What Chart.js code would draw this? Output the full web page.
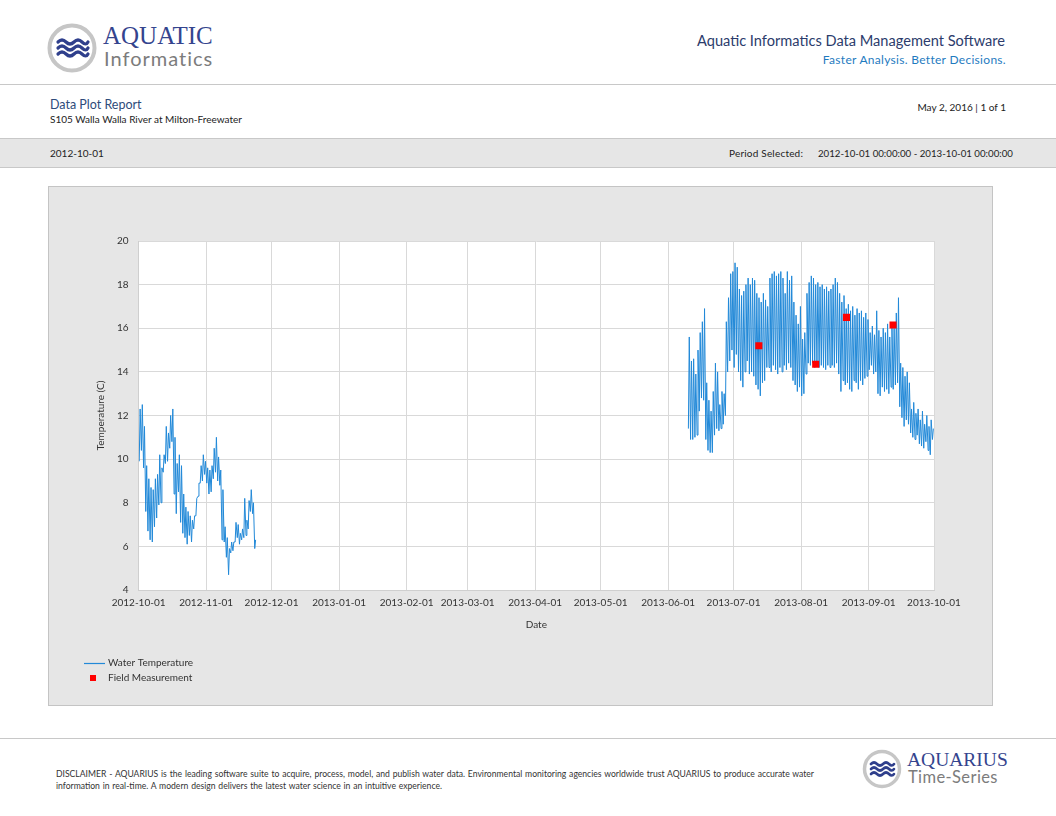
<!DOCTYPE html>
<html>
<head>
<meta charset="utf-8">
<title>Data Plot Report</title>
<script src="https://cdn.jsdelivr.net/npm/chart.js@4.4.0/dist/chart.umd.min.js"></script>
<style>
  body { margin: 0; width: 1056px; height: 816px; position: relative; background: #fff;
         font-family: Lato, 'Open Sans', sans-serif; color: #333; overflow: hidden; }
  .abs { position: absolute; white-space: nowrap; }
  .rule { position: absolute; left: 0; width: 1056px; height: 1px; background: #c8c8c8; }
  #band { position: absolute; left: 0; top: 138px; width: 1056px; height: 30px; background: #e6e6e6;
          border-top: 1px solid #c8c8c8; border-bottom: 1px solid #c8c8c8; box-sizing: border-box; }
  #box { position: absolute; left: 48px; top: 186px; width: 945px; height: 520px; background: #e6e6e6;
         border: 1px solid #c4c4c4; box-sizing: border-box; }
  #chartWrap { position: absolute; left: 48px; top: 186px; width: 945px; height: 520px; }
  #disclaimer { position: absolute; left: 56px; top: 768px; width: 758px; font-size: 8.6px; line-height: 12px; color: #333; word-spacing: 0.6px; }
  #disclaimer .l1 { text-align: justify; text-align-last: justify; word-spacing: 0; }
</style>
</head>
<body>

<!-- header -->
<svg class="abs" style="left:46px;top:22px" width="54" height="54" viewBox="0 0 54 54">
  <circle cx="26" cy="26" r="22.5" fill="#fff" stroke="#c6c6c6" stroke-width="4"/>
  <g fill="none" stroke="#2f3f8c" stroke-width="3.2" stroke-linecap="round">
    <path d="M12 20 q4 -4 8 0 t8 0 t8 0 t6 0"/>
    <path d="M12 26 q4 -4 8 0 t8 0 t8 0 t6 0"/>
    <path d="M12 32 q4 -4 8 0 t8 0 t8 0 t6 0"/>
  </g>
</svg>
<div class="abs" style="left:103px;top:22px;font-family:'Liberation Serif',serif;font-size:25px;color:#34448e">AQUATIC</div>
<div class="abs" style="left:104px;top:46px;font-size:20px;color:#7c7c7c;letter-spacing:1px">Informatics</div>

<div class="abs" style="right:51px;top:32px;font-size:14.6px;color:#2c3c6c">Aquatic Informatics Data Management Software</div>
<div class="abs" style="right:50px;top:52px;font-size:12px;color:#1f7bbf;letter-spacing:0.3px">Faster Analysis. Better Decisions.</div>
<div class="rule" style="top:84px"></div>

<div class="abs" style="left:50px;top:97px;font-size:12.5px;color:#2e4b7a">Data Plot Report</div>
<div class="abs" style="left:50px;top:113px;font-size:10px;color:#222">S105 Walla Walla River at Milton-Freewater</div>
<div class="abs" style="right:50px;top:101px;font-size:10px;color:#222">May 2, 2016 | 1 of 1</div>

<div id="band"></div>
<div class="abs" style="left:50px;top:147px;font-size:10px;color:#222">2012-10-01</div>
<div class="abs" style="left:729px;top:147px;font-size:10px;color:#222;letter-spacing:0.2px">Period Selected:</div>
<div class="abs" style="left:818px;top:147px;font-size:9.7px;color:#222">2012-10-01 00:00:00 - 2013-10-01 00:00:00</div>

<div id="box"></div>
<div id="chartWrap"><canvas id="myChart"></canvas></div>

<!-- footer -->
<div class="rule" style="top:738px"></div>
<div id="disclaimer">
  <div class="l1">DISCLAIMER - AQUARIUS is the leading software suite to acquire, process, model, and publish water data. Environmental monitoring agencies worldwide trust AQUARIUS to produce accurate water</div>
  <div>information in real-time. A modern design delivers the latest water science in an intuitive experience.</div>
</div>
<svg class="abs" style="left:861px;top:748px" width="42" height="42" viewBox="0 0 42 42">
  <circle cx="21" cy="21" r="17.5" fill="#fff" stroke="#c6c6c6" stroke-width="3.5"/>
  <g fill="none" stroke="#2f3f8c" stroke-width="2.6" stroke-linecap="round">
    <path d="M10 16 q3 -3 6 0 t6 0 t6 0 t5 0"/>
    <path d="M10 21 q3 -3 6 0 t6 0 t6 0 t5 0"/>
    <path d="M10 26 q3 -3 6 0 t6 0 t6 0 t5 0"/>
  </g>
</svg>
<div class="abs" style="left:907px;top:749px;font-family:'Liberation Serif',serif;font-size:19.5px;color:#34448e">AQUARIUS</div>
<div class="abs" style="left:908px;top:767px;font-size:16.5px;color:#7c7c7c;letter-spacing:0.4px">Time-Series</div>

<script>
// daily low / high water temperature
const fallStart = '2012-10-01';
const fallMin = [9.9, 10.4, 9.6, 7.6, 6.7, 6.3, 6.2, 6.9, 7.3, 7.9,
  8.0, 9.4, 9.8, 9.9, 10.5, 10.8, 8.4, 7.5, 8.5, 7.1,
  6.6, 6.4, 6.1, 6.5, 6.2, 6.8, 7.4, 8.3, 8.9, 9.0,
  9.3,
  8.9, 8.4, 8.5, 9.1, 9.4, 9.0, 8.8, 6.3, 6.2, 5.5,
  4.7, 5.7, 5.8, 6.2, 6.4, 6.1, 6.3, 6.4, 6.5, 6.8,
  7.6, 7.5, 5.9];
const fallMax = [12.3, 12.5, 11.5, 9.7, 9.1, 8.7, 8.6, 9.1, 9.3, 10.2,
  9.6, 10.2, 11.5, 11.2, 12.0, 12.3, 11.0, 9.8, 10.2, 9.7,
  8.4, 7.8, 7.6, 7.4, 7.2, 7.4, 8.2, 8.9, 9.7, 10.2,
  9.9,
  9.6, 9.5, 9.7, 10.5, 11.0, 10.1, 9.5, 8.6, 6.9, 6.4,
  5.9, 6.2, 6.2, 7.1, 7.0, 6.6, 6.8, 8.2, 7.2, 8.1,
  8.6, 8.0, 6.3];

const summerStart = '2013-06-10';
const summerMin = [11.4, 10.9, 10.9, 11.0, 11.1, 12.2, 12.8, 12.7, 10.9, 10.4,
  10.3, 10.3, 11.1, 11.4, 11.3, 11.4, 11.6, 12.0, 14.0, 14.5,
  15.0,
  14.2, 14.8, 14.0, 13.6, 13.3, 14.0, 14.5, 13.9, 14.0, 13.8,
  13.4, 13.2, 12.9, 13.5, 13.6, 14.2, 14.2, 14.0, 14.3, 14.1,
  13.9, 14.2, 14.0, 14.3, 14.1, 14.4, 14.2, 13.6, 13.4, 13.1,
  13.3,
  12.9, 13.0, 13.9, 14.4, 14.3, 14.4, 14.2, 14.3, 14.2, 14.3,
  14.2, 14.1, 14.3, 14.2, 14.3, 14.2, 14.4, 13.9, 13.1, 13.6,
  13.4, 13.5, 13.2, 13.1, 13.6, 13.5, 13.2, 13.6, 13.4, 13.7,
  13.8,
  14.1, 14.3, 13.9, 14.0, 13.0, 12.9, 13.3, 13.1, 13.2, 13.0,
  13.3, 13.2, 13.4, 13.5, 12.4, 11.9, 11.5, 11.8, 11.6, 11.2,
  11.0, 10.9, 11.1, 10.7, 10.6, 10.5, 10.8, 10.4, 10.2, 10.9];
const summerMax = [15.6, 14.5, 14.6, 13.9, 15.0, 15.8, 16.3, 16.9, 13.5, 12.7,
  12.2, 13.1, 14.4, 14.0, 12.5, 13.1, 13.0, 16.3, 17.4, 18.5,
  18.6,
  19.0, 18.8, 17.8, 17.5, 17.7, 18.0, 18.3, 18.0, 18.3, 18.2,
  17.6, 17.4, 17.2, 17.6, 17.3, 17.0, 18.3, 18.5, 18.6, 18.4,
  18.5, 18.6, 18.3, 17.6, 18.6, 18.2, 18.4, 17.2, 16.6, 16.2,
  17.0,
  15.5, 15.8, 17.6, 18.1, 18.4, 18.3, 18.0, 18.1, 17.9, 18.0,
  17.8, 17.9, 17.7, 17.8, 18.0, 18.3, 18.1, 17.6, 17.2, 17.5,
  16.9, 17.1, 16.8, 17.0, 16.6, 16.9, 16.7, 16.8, 16.5, 16.7,
  16.4,
  15.8, 16.1, 15.7, 16.8, 15.9, 15.6, 16.0, 15.8, 16.2, 15.6,
  16.1, 16.0, 16.7, 17.4, 14.4, 14.2, 13.8, 14.0, 13.5, 12.3,
  12.6, 12.1, 12.3, 11.8, 12.2, 11.6, 12.0, 11.5, 11.8, 11.4];

// field visits
const fieldTimes = ['2013-07-12 15:00', '2013-08-07 17:00', '2013-08-21 20:00', '2013-09-12 05:00'];
const fieldValues = [15.2, 14.35, 16.5, 16.15];

const tickLabels = ['2012-10-01', '2012-11-01', '2012-12-01', '2013-01-01', '2013-02-01', '2013-03-01',
  '2013-04-01', '2013-05-01', '2013-06-01', '2013-07-01', '2013-08-01', '2013-09-01', '2013-10-01'];

const origin = Date.UTC(2012, 9, 1);
const dayIndex = (s) => {
  const p = s.split(/[- :]/).map(Number);
  return (Date.UTC(p[0], p[1] - 1, p[2], p[3] || 0, p[4] || 0) - origin) / 864e5;
};

// low in the early morning, high in the late afternoon
const dailySeries = (start, lows, highs) => {
  const d0 = dayIndex(start);
  const pts = [];
  for (var i = 0; i < lows.length; i++) {
    pts.push({ x: d0 + i + 0.29, y: lows[i] });
    pts.push({ x: d0 + i + 0.7, y: highs[i] });
  }
  return pts;
};

const tempPoints = dailySeries(fallStart, fallMin, fallMax)
  .concat([{ x: dayIndex('2013-01-01'), y: null }])
  .concat(dailySeries(summerStart, summerMin, summerMax));

const fieldPoints = fieldTimes.map((t, i) => ({ x: dayIndex(t), y: fieldValues[i] }));

const plotBackground = {
  id: 'plotBackground',
  beforeDraw(chart) {
    const { ctx, chartArea: a } = chart;
    ctx.save();
    ctx.fillStyle = '#ffffff';
    ctx.fillRect(a.left, a.top, a.width, a.height);
    ctx.restore();
  }
};

// stacked legend in the lower left corner
const stackedLegend = {
  id: 'stackedLegend',
  afterDraw(chart) {
    const ctx = chart.ctx;
    const x = 36, y0 = 477, gap = 15;
    chart.data.datasets.forEach((ds, i) => {
      const y = y0 + i * gap;
      ctx.save();
      if (ds.showLine === false) {
        ctx.fillStyle = ds.backgroundColor;
        ctx.fillRect(x + 6, y - 3, 6, 6);
      } else {
        ctx.strokeStyle = ds.borderColor;
        ctx.lineWidth = 1.2;
        ctx.beginPath();
        ctx.moveTo(x, y + 0.5);
        ctx.lineTo(x + 21, y + 0.5);
        ctx.stroke();
      }
      ctx.fillStyle = '#333';
      ctx.font = "10px Lato, 'Open Sans', sans-serif";
      ctx.textBaseline = 'middle';
      ctx.fillText(ds.label, x + 24, y);
      ctx.restore();
    });
  }
};

Chart.defaults.font.family = "Lato, 'Open Sans', sans-serif";
Chart.defaults.font.size = 10;
Chart.defaults.color = '#333';

const ctx = document.getElementById('myChart');
const myChart = new Chart(ctx, {
  data: {
    datasets: [
      {
        type: 'line',
        label: 'Water Temperature',
        data: tempPoints,
        order: 2,
        borderColor: '#2289d8',
        backgroundColor: '#2289d8',
        borderWidth: 1,
        pointRadius: 0,
        tension: 0,
        spanGaps: false
      },
      {
        type: 'scatter',
        label: 'Field Measurement',
        data: fieldPoints,
        order: 1,
        showLine: false,
        pointStyle: 'rect',
        pointRadius: 5,
        backgroundColor: '#ff0000',
        borderColor: '#ff0000',
        borderWidth: 0
      }
    ]
  },
  options: {
    responsive: true,
    maintainAspectRatio: false,
    animation: false,
    layout: { padding: { left: 43, right: 59, top: 55, bottom: 71 } },
    plugins: { legend: { display: false }, tooltip: { enabled: false } },
    scales: {
      x: {
        type: 'linear',
        min: 0,
        max: dayIndex('2013-10-01'),
        afterBuildTicks: (scale) => {
          scale.ticks = tickLabels.map(t => ({ value: dayIndex(t) }));
        },
        ticks: {
          autoSkip: false,
          maxRotation: 0,
          padding: 7,
          callback: (v) => tickLabels.find(t => Math.round(dayIndex(t)) === Math.round(v))
        },
        grid: { color: '#d9d9d9', drawTicks: false },
        border: { color: '#cfcfcf' },
        title: { display: true, text: 'Date', padding: { top: 3, bottom: 4 } }
      },
      y: {
        min: 4,
        max: 20,
        ticks: { stepSize: 2, padding: 10 },
        grid: { color: '#d9d9d9', drawTicks: false },
        border: { color: '#cfcfcf' },
        title: { display: true, text: 'Temperature (C)', padding: { top: 4, bottom: 0 } }
      }
    }
  },
  plugins: [plotBackground, stackedLegend]
});
</script>
</body>
</html>
